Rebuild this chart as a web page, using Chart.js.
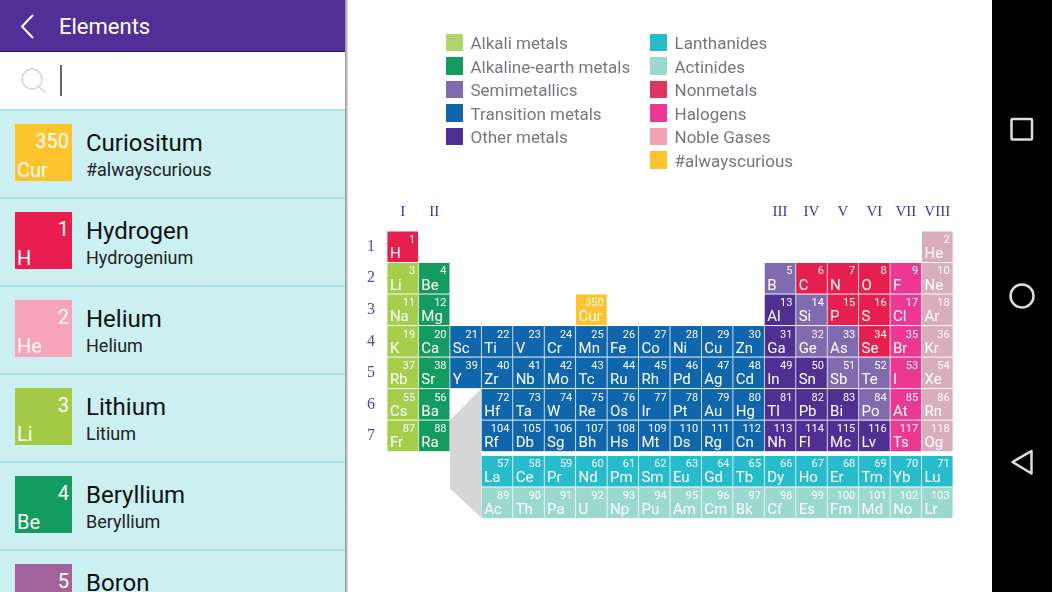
<!DOCTYPE html>
<html>
<head>
<meta charset="utf-8">
<title>Elements</title>
<script src="https://cdn.jsdelivr.net/npm/chart.js@4"></script>
<style>
html, body { margin: 0; padding: 0; background: #fff; }
#page { position: relative; width: 1052px; height: 592px; overflow: hidden; font-family: Roboto, sans-serif; background: #fff; }
#page div { position: absolute; white-space: nowrap; }
#topbar { left: 0; top: 0; width: 345px; height: 51px; background: #512f96; border-bottom: 1px solid #2f1291; }
#title { left: 59px; top: 13px; font-size: 22px; line-height: 28px; color: #fff; }
#search { left: 0; top: 52px; width: 345px; height: 57px; background: #fff; }
#caret { left: 60px; top: 13px; width: 2px; height: 31px; background: #666; }
#list { left: 0; top: 109px; width: 345px; height: 483px; background: #cceff2; overflow: hidden; }
#edge { left: 345px; top: 0; width: 3px; height: 592px; background: linear-gradient(to right, #8f8f8f, #e8e8e8); }
#navbar { left: 992px; top: 0; width: 60px; height: 592px; background: #000; }
#myChart { position: absolute; left: 348px; top: 0; }
svg { position: absolute; left: 0; top: 0; }
</style>
</head>
<body>
<div id="page">
    <canvas id="myChart" width="644" height="592"></canvas>
    <div id="legend"></div>
    <div id="topbar"></div>
    <div id="title">Elements</div>
    <div id="search"><div id="caret"></div></div>
    <div id="list"></div>
    <div id="edge"></div>
    <div id="navbar"></div>
    <svg width="1052" height="592" fill="none">
        <path d="M33 15 L22 26.5 L33 38" stroke="#fff" stroke-width="2"/>
        <circle cx="32" cy="79" r="10" stroke="#d4d4d4" stroke-width="1.5"/>
        <path d="M39 87 L46 93" stroke="#d4d4d4" stroke-width="1.5"/>
        <rect x="1011.5" y="119" width="20.5" height="20.5" rx="1" stroke="#ddd" stroke-width="2.5"/>
        <circle cx="1022" cy="296" r="11.5" stroke="#ddd" stroke-width="2.5"/>
        <path d="M1012.5 462 L1031.5 451 L1031.5 473.5 Z" stroke="#ddd" stroke-width="2.5" stroke-linejoin="round"/>
    </svg>
</div>
<script>
const familyNames = ['Alkali metals', 'Alkaline-earth metals', 'Semimetallics', 'Transition metals', 'Other metals',
    'Lanthanides', 'Actinides', 'Nonmetals', 'Halogens', 'Noble Gases', '#alwayscurious'];
const cellColors = ['#a6cd4b', '#149b5f', '#816bb0', '#0f66ad', '#4f2f92',
    '#26bccb', '#9ad8d0', '#e61f4f', '#ec3893', '#d9aebc', '#fec42d'];
const legendColors = ['#b2d46a', '#149b5f', '#816bb0', '#0f66ad', '#4f2f92',
    '#26bccb', '#9ad8d0', '#dd3660', '#ec3893', '#f6a0b6', '#fec42d'];

const groupKeys = ['c1', 'c2', 'c3', 'c4', 'c5', 'c6', 'c7', 'c8', 'c9', 'c10', 'c11', 'c12', 'c13', 'c14', 'c15', 'c16', 'c17', 'c18'];
const groupLabels = ['I', 'II', '', '', '', '', '', '', '', '', '', '', 'III', 'IV', 'V', 'VI', 'VII', 'VIII'];
const periodLabels = [1, 2, 3, 4, 5, 6, 7];

// element tables, one entry per cell, in atomic number order
const symbols = ['H', 'He',
    'Li', 'Be', 'B', 'C', 'N', 'O', 'F', 'Ne',
    'Na', 'Mg', 'Al', 'Si', 'P', 'S', 'Cl', 'Ar',
    'K', 'Ca', 'Sc', 'Ti', 'V', 'Cr', 'Mn', 'Fe', 'Co', 'Ni', 'Cu', 'Zn', 'Ga', 'Ge', 'As', 'Se', 'Br', 'Kr',
    'Rb', 'Sr', 'Y', 'Zr', 'Nb', 'Mo', 'Tc', 'Ru', 'Rh', 'Pd', 'Ag', 'Cd', 'In', 'Sn', 'Sb', 'Te', 'I', 'Xe',
    'Cs', 'Ba', 'La', 'Ce', 'Pr', 'Nd', 'Pm', 'Sm', 'Eu', 'Gd', 'Tb', 'Dy', 'Ho', 'Er', 'Tm', 'Yb', 'Lu',
    'Hf', 'Ta', 'W', 'Re', 'Os', 'Ir', 'Pt', 'Au', 'Hg', 'Tl', 'Pb', 'Bi', 'Po', 'At', 'Rn',
    'Fr', 'Ra', 'Ac', 'Th', 'Pa', 'U', 'Np', 'Pu', 'Am', 'Cm', 'Bk', 'Cf', 'Es', 'Fm', 'Md', 'No', 'Lr',
    'Rf', 'Db', 'Sg', 'Bh', 'Hs', 'Mt', 'Ds', 'Rg', 'Cn', 'Nh', 'Fl', 'Mc', 'Lv', 'Ts', 'Og',
    'Cur'];
const numbers = [1, 2,
    3, 4, 5, 6, 7, 8, 9, 10,
    11, 12, 13, 14, 15, 16, 17, 18,
    19, 20, 21, 22, 23, 24, 25, 26, 27, 28, 29, 30, 31, 32, 33, 34, 35, 36,
    37, 38, 39, 40, 41, 42, 43, 44, 45, 46, 47, 48, 49, 50, 51, 52, 53, 54,
    55, 56, 57, 58, 59, 60, 61, 62, 63, 64, 65, 66, 67, 68, 69, 70, 71,
    72, 73, 74, 75, 76, 77, 78, 79, 80, 81, 82, 83, 84, 85, 86,
    87, 88, 89, 90, 91, 92, 93, 94, 95, 96, 97, 98, 99, 100, 101, 102, 103,
    104, 105, 106, 107, 108, 109, 110, 111, 112, 113, 114, 115, 116, 117, 118,
    350];
const columns = [1, 18,
    1, 2, 13, 14, 15, 16, 17, 18,
    1, 2, 13, 14, 15, 16, 17, 18,
    1, 2, 3, 4, 5, 6, 7, 8, 9, 10, 11, 12, 13, 14, 15, 16, 17, 18,
    1, 2, 3, 4, 5, 6, 7, 8, 9, 10, 11, 12, 13, 14, 15, 16, 17, 18,
    1, 2, 4, 5, 6, 7, 8, 9, 10, 11, 12, 13, 14, 15, 16, 17, 18,
    4, 5, 6, 7, 8, 9, 10, 11, 12, 13, 14, 15, 16, 17, 18,
    1, 2, 4, 5, 6, 7, 8, 9, 10, 11, 12, 13, 14, 15, 16, 17, 18,
    4, 5, 6, 7, 8, 9, 10, 11, 12, 13, 14, 15, 16, 17, 18,
    7];
const rows = [1, 1,
    2, 2, 2, 2, 2, 2, 2, 2,
    3, 3, 3, 3, 3, 3, 3, 3,
    4, 4, 4, 4, 4, 4, 4, 4, 4, 4, 4, 4, 4, 4, 4, 4, 4, 4,
    5, 5, 5, 5, 5, 5, 5, 5, 5, 5, 5, 5, 5, 5, 5, 5, 5, 5,
    6, 6, 8, 8, 8, 8, 8, 8, 8, 8, 8, 8, 8, 8, 8, 8, 8,
    6, 6, 6, 6, 6, 6, 6, 6, 6, 6, 6, 6, 6, 6, 6,
    7, 7, 9, 9, 9, 9, 9, 9, 9, 9, 9, 9, 9, 9, 9, 9, 9,
    7, 7, 7, 7, 7, 7, 7, 7, 7, 7, 7, 7, 7, 7, 7,
    3];
const families = [7, 9,
    0, 1, 2, 7, 7, 7, 8, 9,
    0, 1, 4, 2, 7, 7, 8, 9,
    0, 1, 3, 3, 3, 3, 3, 3, 3, 3, 3, 3, 4, 2, 2, 7, 8, 9,
    0, 1, 3, 3, 3, 3, 3, 3, 3, 3, 3, 3, 4, 4, 2, 2, 8, 9,
    0, 1, 5, 5, 5, 5, 5, 5, 5, 5, 5, 5, 5, 5, 5, 5, 5,
    3, 3, 3, 3, 3, 3, 3, 3, 3, 4, 4, 4, 2, 8, 9,
    0, 1, 6, 6, 6, 6, 6, 6, 6, 6, 6, 6, 6, 6, 6, 6, 6,
    3, 3, 3, 3, 3, 3, 3, 3, 3, 4, 4, 4, 4, 8, 9,
    10];

// side list
const listNumbers = [350, 1, 2, 3, 4, 5];
const listSymbols = ['Cur', 'H', 'He', 'Li', 'Be', ''];
const listNames = ['Curiositum', 'Hydrogen', 'Helium', 'Lithium', 'Beryllium', 'Boron'];
const listSubtitles = ['#alwayscurious', 'Hydrogenium', 'Helium', 'Litium', 'Beryllium', ''];
const listColors = ['#fec42d', '#e91e50', '#f7a3b8', '#a4ca45', '#149b5f', '#a4629c'];

// the f-block rows sit a little apart from the main table
function rowCenter(row) {
    return row > 7 ? row + 0.12 : row;
}

function buildDatasets() {
    return familyNames.map((name, f) => {
        const data = [];
        symbols.forEach((symbol, i) => {
            if (families[i] !== f) return;
            const c = rowCenter(rows[i]);
            data.push({ x: groupKeys[columns[i] - 1], y: [c - 0.485, c + 0.485], symbol: symbol, number: numbers[i] });
        });
        return {
            label: name,
            data: data,
            backgroundColor: cellColors[f],
            grouped: false,
            categoryPercentage: 1,
            barPercentage: 0.976
        };
    });
}

// grey wedge that leads from the gap in the table down to the f-block
const wedgePlugin = {
    id: 'wedge',
    beforeDatasetsDraw(chart) {
        const { ctx, scales: { x, y } } = chart;
        ctx.save();
        ctx.fillStyle = '#d6d6d6';
        ctx.beginPath();
        ctx.moveTo(x.getPixelForValue(2.5), y.getPixelForValue(5.49));
        ctx.lineTo(x.getPixelForValue(1.5), y.getPixelForValue(6.5));
        ctx.lineTo(x.getPixelForValue(1.5), y.getPixelForValue(8.66));
        ctx.lineTo(x.getPixelForValue(2.5), y.getPixelForValue(9.6));
        ctx.closePath();
        ctx.fill();
        ctx.restore();
    }
};

// number and symbol inside each cell
const cellTextPlugin = {
    id: 'cellText',
    afterDatasetsDraw(chart) {
        const ctx = chart.ctx;
        ctx.save();
        ctx.fillStyle = '#fff';
        ctx.textBaseline = 'alphabetic';
        chart.data.datasets.forEach((ds, d) => {
            chart.getDatasetMeta(d).data.forEach((bar, i) => {
                const left = bar.x - bar.width / 2;
                const right = bar.x + bar.width / 2;
                const top = Math.min(bar.y, bar.base);
                const bottom = Math.max(bar.y, bar.base);
                ctx.font = '11px Roboto';
                ctx.textAlign = 'right';
                ctx.fillText(ds.data[i].number, right - 3, top + 11.5);
                ctx.font = '15px Roboto';
                ctx.textAlign = 'left';
                ctx.fillText(ds.data[i].symbol, left + 2.5, bottom - 4);
            });
        });
        ctx.restore();
    }
};

function buildLegend() {
    const box = document.getElementById('legend');
    familyNames.forEach((name, i) => {
        const col = i < 5 ? 0 : 1;
        const row = i < 5 ? i : i - 5;
        const swatch = document.createElement('div');
        swatch.style.cssText = `left:${445.5 + col * 204}px;top:${33.5 + row * 23.5}px;width:17.5px;height:17.5px;background:${legendColors[i]}`;
        const text = document.createElement('div');
        text.textContent = name;
        text.style.cssText = `left:${470.5 + col * 204}px;top:${32 + row * 23.5}px;font-size:17px;line-height:22px;color:#77777f`;
        box.appendChild(swatch);
        box.appendChild(text);
    });
}

function buildList() {
    const list = document.getElementById('list');
    listNames.forEach((name, i) => {
        const top = i * 88;
        let html = `<div style="left:0;top:${top}px;width:345px;height:2px;background:#aae2ea"></div>`;
        html += `<div style="left:14.5px;top:${top + 15}px;width:57.5px;height:57px;background:${listColors[i]}"></div>`;
        html += `<div style="right:${345 - 69}px;top:${top + 20}px;font-size:20px;line-height:24px;color:#fff">${listNumbers[i]}</div>`;
        html += `<div style="left:17px;top:${top + 49}px;font-size:20px;line-height:24px;color:#fff">${listSymbols[i]}</div>`;
        html += `<div style="left:86px;top:${top + 18.5}px;font-size:24px;line-height:30px;color:#111">${name}</div>`;
        html += `<div style="left:86px;top:${top + 49.5}px;font-size:18px;line-height:22px;color:#222">${listSubtitles[i]}</div>`;
        list.insertAdjacentHTML('beforeend', html);
    });
}

function buildChart() {
    const ctx = document.getElementById('myChart').getContext('2d');
    return new Chart(ctx, {
        type: 'bar',
        data: { labels: groupKeys, datasets: buildDatasets() },
        plugins: [wedgePlugin, cellTextPlugin],
        options: {
            responsive: false,
            devicePixelRatio: 1,
            animation: false,
            layout: { padding: { left: 0, top: 206, right: 39, bottom: 71 } },
            plugins: { legend: { display: false }, tooltip: { enabled: false } },
            scales: {
                x: {
                    position: 'top',
                    afterFit: scale => { scale.height = 25; },
                    grid: { display: false, drawTicks: false },
                    border: { display: false },
                    ticks: {
                        autoSkip: false,
                        maxRotation: 0,
                        padding: 10,
                        color: '#4b2fa0',
                        font: { family: '"Liberation Serif"', size: 15 },
                        callback: (value, index) => groupLabels[index]
                    }
                },
                y: {
                    reverse: true,
                    min: 0.5,
                    max: 9.7,
                    afterFit: scale => { scale.width = 39; },
                    afterBuildTicks: scale => { scale.ticks = periodLabels.map(p => ({ value: p })); },
                    grid: { display: false, drawTicks: false },
                    border: { display: false },
                    ticks: {
                        padding: 12,
                        color: '#5a45a5',
                        font: { family: '"Liberation Serif"', size: 16 }
                    }
                }
            }
        }
    });
}

buildLegend();
buildList();
buildChart();
</script>
</body>
</html>
